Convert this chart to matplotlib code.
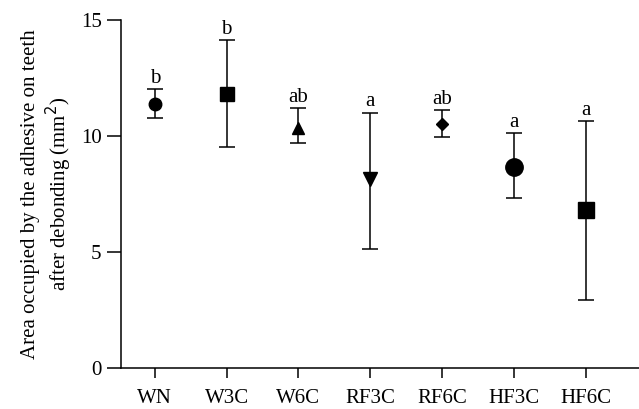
import matplotlib
matplotlib.use("Agg")
import matplotlib.pyplot as plt

# group data
groups = ["WN", "W3C", "W6C", "RF3C", "RF6C", "HF3C", "HF6C"]
means = [11.38, 11.81, 10.35, 8.15, 10.50, 8.66, 6.81]
upper = [12.03, 14.14, 11.20, 11.00, 11.12, 10.13, 10.65]
lower = [10.78, 9.53, 9.70, 5.13, 9.95, 7.33, 2.93]
letters = ["b", "b", "ab", "a", "ab", "a", "a"]
markers = ["o", "s", "^", "v", "D", "o", "s"]
msizes = [9, 10.5, 8.5, 9.5, 6.5, 12.5, 12]

plt.rcParams["font.family"] = ["Liberation Serif", "DejaVu Serif"]

fig = plt.figure(figsize=(6.39, 4.09), dpi=100)
ax = fig.add_axes([121 / 639, 1 - 368 / 409, 1 - 121 / 639, (368 - 20) / 409])

for i, g in enumerate(groups):
    err = [[means[i] - lower[i]], [upper[i] - means[i]]]
    ax.errorbar(i, means[i], yerr=err, fmt=markers[i], color="black",
                ms=msizes[i], ecolor="black", elinewidth=1.1, capsize=5.5,
                capthick=1.1, zorder=3)
    ax.annotate(letters[i], (i, upper[i]), xytext=(0, 1),
                textcoords="offset points", ha="center", va="bottom",
                fontsize=15)

ax.set_xlim(-0.47, 6.74)
ax.set_ylim(0, 15)
ax.set_yticks([0, 5, 10, 15])
ax.set_xticks(range(len(groups)))
ax.set_xticklabels(groups)

ax.spines["top"].set_visible(False)
ax.spines["right"].set_visible(False)
ax.spines["left"].set_linewidth(1.1)
ax.spines["bottom"].set_linewidth(1.1)
ax.tick_params(axis="y", direction="out", length=10, width=1.1, labelsize=15, pad=4)
ax.tick_params(axis="x", direction="out", length=7, width=1.1, labelsize=15, pad=8)

ax.set_ylabel("Area occupied by the adhesive on teeth\nafter debonding (mm$^2$)",
              fontsize=15, linespacing=1.2)
ax.yaxis.set_label_coords(-0.09, 0.5)

fig.savefig("out.png", dpi=100)
